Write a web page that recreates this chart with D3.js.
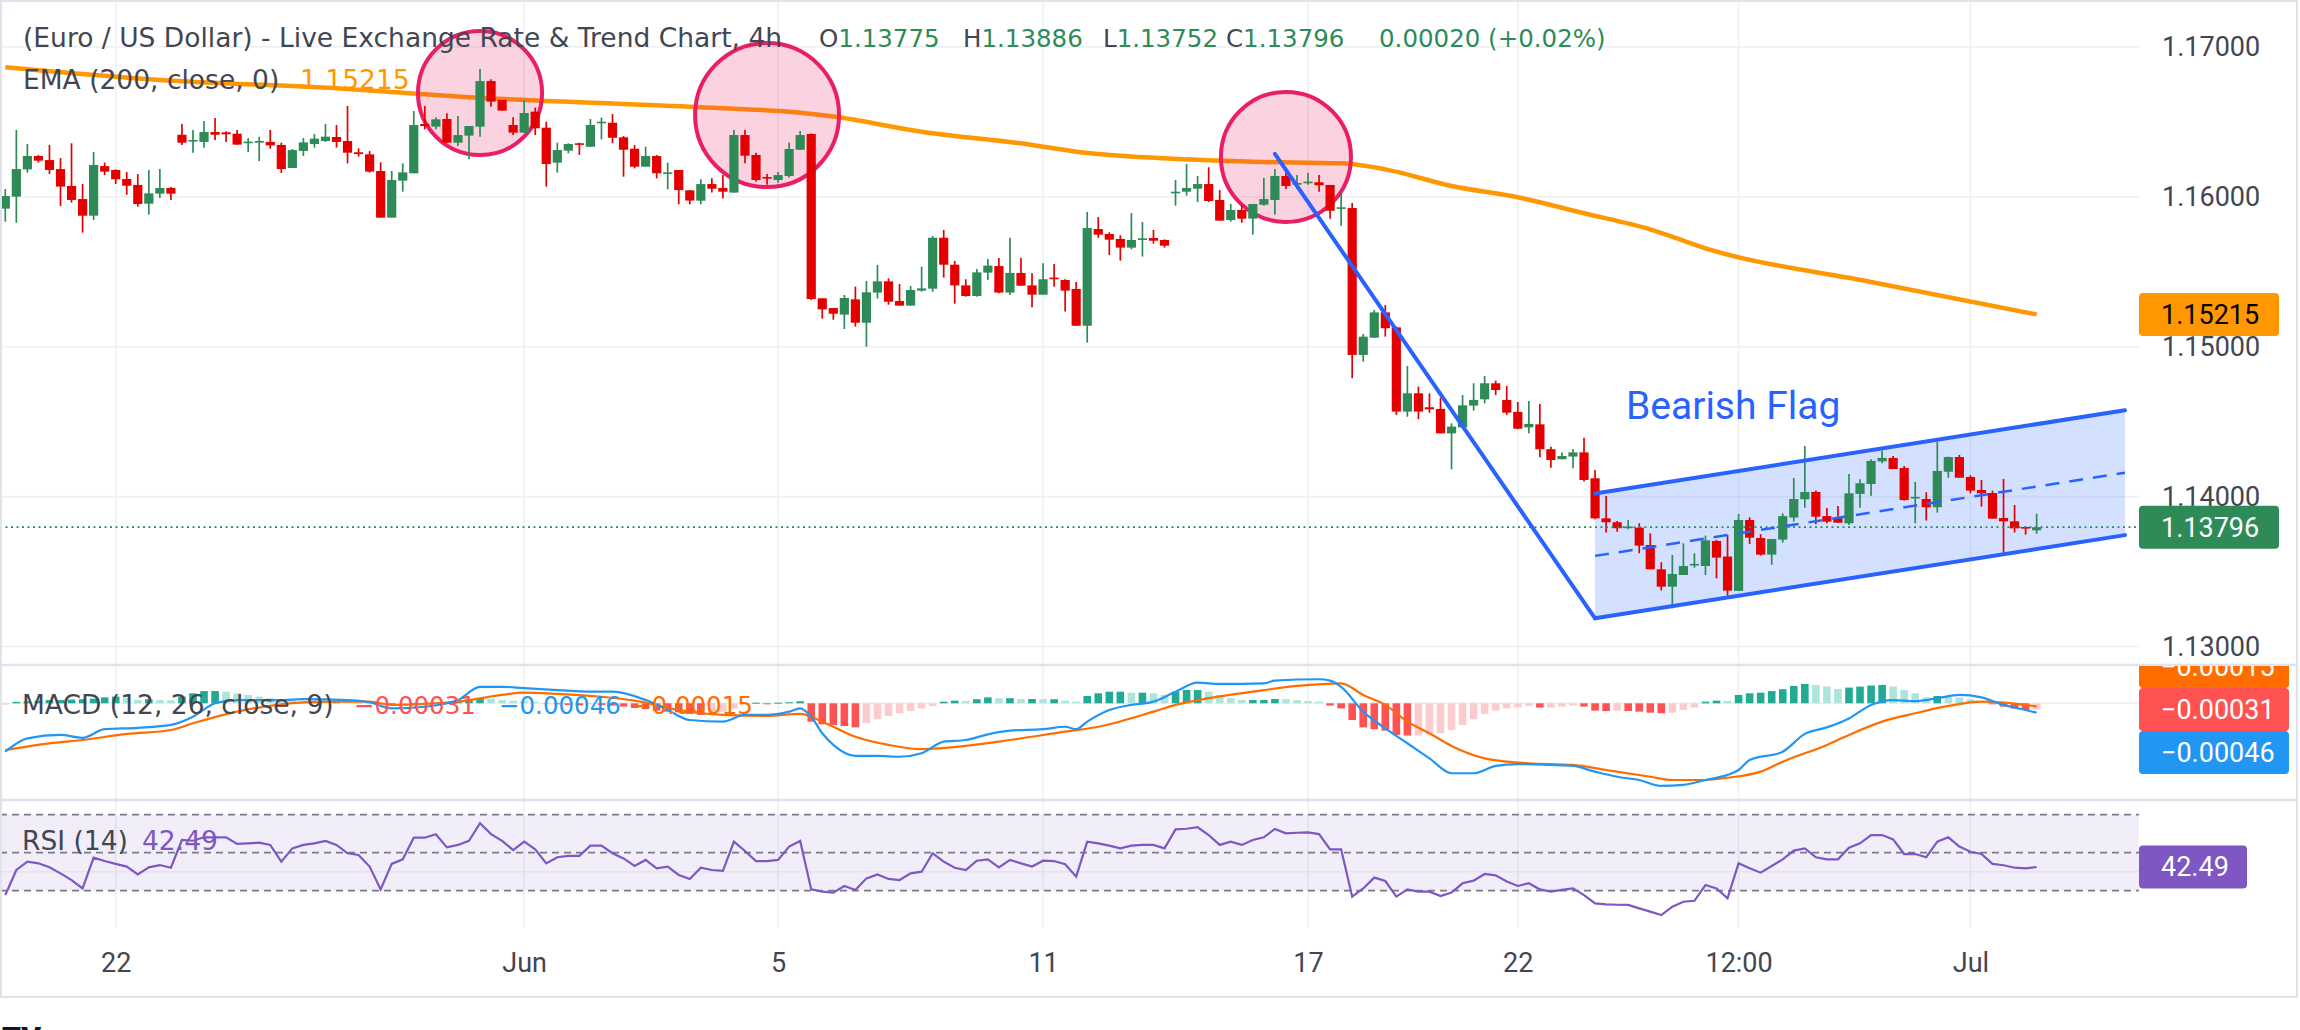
<!DOCTYPE html>
<html><head><meta charset="utf-8">
<script src="https://cdn.jsdelivr.net/npm/d3@7"></script>
<style>html,body{margin:0;padding:0;background:#fff;}svg{display:block;font-family:Roboto,"Noto Sans",sans-serif;}</style>
</head><body><div id="chart"></div>
<script>
// ---------------- DATA ----------------
const open = [1.15921,1.16001,1.16183,1.16272,1.16245,1.16185,1.16072,1.15985,1.15874,1.16205,
1.16179,1.16119,1.16079,1.15954,1.16021,1.16059,1.16414,1.16372,1.16366,1.16432,
1.1643,1.16421,1.16361,1.16363,1.16366,1.16346,1.16192,1.16306,1.16352,1.16372,
1.16399,1.16372,1.16297,1.16283,1.16172,1.15861,1.16108,1.16157,1.16486,1.16468,
1.16519,1.16361,1.16408,1.16468,1.16772,1.16646,1.16479,1.16428,1.16568,1.16461,
1.16228,1.16308,1.16357,1.16334,1.16494,1.16494,1.16397,1.16321,1.16201,1.16272,
1.16154,1.16179,1.16043,1.15974,1.16085,1.16059,1.16028,1.16412,1.16279,1.16132,
1.16112,1.16139,1.16314,1.16419,1.15323,1.15258,1.15214,1.15316,1.1516,1.15361,
1.15436,1.15305,1.15274,1.15374,1.15387,1.15727,1.15547,1.15409,1.15338,1.15494,
1.15538,1.15361,1.15492,1.15409,1.15347,1.15461,1.15445,1.15385,1.1514,1.15785,
1.15752,1.15719,1.15661,1.15712,1.15725,1.15712,1.16025,1.16034,1.16054,1.16085,
1.15979,1.15845,1.15912,1.15854,1.15947,1.15979,1.16139,1.16081,1.16097,1.16097,
1.16079,1.15921,1.15925,1.14945,1.1506,1.15229,1.15129,1.14567,1.14689,1.14596,
1.14585,1.14422,1.14462,1.14607,1.14649,1.14756,1.14645,1.14565,1.14462,1.14482,
1.14316,1.14249,1.14267,1.14295,1.14122,1.13855,1.13829,1.13793,1.13793,1.13677,
1.13515,1.13399,1.13477,1.13542,1.13537,1.13704,1.136,1.13371,1.13844,1.13724,
1.13613,1.13713,1.1386,1.13982,1.14031,1.1387,1.13857,1.13822,1.14018,1.14084,
1.14235,1.14258,1.14191,1.13991,1.13984,1.13929,1.14166,1.14264,1.14131,1.14044,
1.14024,1.13857,1.13835,1.13797,1.13775];
const high = [1.16052,1.16446,1.16352,1.16279,1.16346,1.16259,1.16357,1.16085,1.16299,1.16228,
1.16183,1.16165,1.16152,1.16179,1.16185,1.16065,1.16486,1.16446,1.16506,1.16526,
1.16437,1.16446,1.16392,1.16401,1.16446,1.16361,1.16319,1.16392,1.16419,1.16486,
1.16479,1.16606,1.16323,1.16305,1.1623,1.16172,1.16223,1.16572,1.16606,1.1653,
1.16557,1.16539,1.16472,1.16852,1.16784,1.16646,1.1653,1.16646,1.16595,1.16501,
1.16361,1.16357,1.16361,1.16519,1.16528,1.16552,1.16406,1.16346,1.16334,1.16279,
1.16228,1.16179,1.16045,1.16117,1.16123,1.16145,1.16446,1.16446,1.16294,1.16152,
1.16165,1.16363,1.16439,1.16423,1.15323,1.15258,1.15345,1.15401,1.15438,1.15545,
1.15456,1.15418,1.15405,1.15534,1.15739,1.15779,1.15572,1.1545,1.15518,1.15585,
1.15592,1.15727,1.15592,1.1549,1.15556,1.15552,1.1545,1.15432,1.15899,1.15865,
1.15763,1.15743,1.15892,1.15832,1.15779,1.15716,1.16112,1.16219,1.16139,1.16197,
1.16045,1.15952,1.15945,1.15952,1.16125,1.16185,1.16192,1.16145,1.16159,1.16145,
1.16079,1.16023,1.15959,1.15085,1.15245,1.15278,1.15134,1.14871,1.14734,1.14689,
1.1466,1.14489,1.14678,1.14756,1.14805,1.14774,1.14738,1.14631,1.14638,1.14618,
1.14333,1.14295,1.14318,1.14393,1.14178,1.14004,1.13837,1.13844,1.13822,1.13755,
1.13562,1.13611,1.13688,1.13622,1.1374,1.13711,1.13744,1.13884,1.13862,1.13749,
1.13717,1.13888,1.14124,1.14338,1.1404,1.13924,1.13937,1.14151,1.14115,1.14249,
1.14307,1.14271,1.14204,1.14098,1.14029,1.14367,1.14267,1.14278,1.14142,1.14111,
1.1404,1.14118,1.13944,1.138,1.13886];
const low = [1.15834,1.15827,1.16161,1.16228,1.16152,1.15939,1.15961,1.15761,1.15845,1.16145,
1.16085,1.16014,1.15934,1.15881,1.15992,1.15979,1.16346,1.16294,1.16328,1.16379,
1.16366,1.16348,1.16299,1.16239,1.16321,1.16159,1.16192,1.16272,1.16328,1.16366,
1.16328,1.16223,1.16268,1.16161,1.15861,1.15861,1.16034,1.16157,1.1645,1.1645,
1.16361,1.16339,1.1625,1.16401,1.16601,1.16575,1.16412,1.16428,1.16412,1.16068,
1.16161,1.1629,1.16279,1.16334,1.16383,1.16357,1.16134,1.1619,1.16201,1.16123,
1.1605,1.1595,1.1595,1.1595,1.16028,1.15988,1.16028,1.16223,1.16101,1.16081,
1.16094,1.16128,1.16314,1.15312,1.15187,1.1518,1.15118,1.15134,1.15,1.15321,
1.1528,1.15274,1.15274,1.15367,1.15367,1.15461,1.15287,1.15334,1.15334,1.15445,
1.15356,1.15345,1.15407,1.15263,1.15347,1.154,1.15234,1.1514,1.15027,1.15727,
1.15612,1.15574,1.1565,1.15601,1.15687,1.15661,1.15941,1.16008,1.15965,1.15965,
1.15841,1.15834,1.15827,1.15747,1.15941,1.15881,1.16052,1.16056,1.16081,1.16034,
1.15854,1.15807,1.1479,1.149,1.1506,1.15067,1.14545,1.14533,1.14516,1.1456,
1.14422,1.14182,1.14462,1.14573,1.14622,1.14678,1.14545,1.14449,1.14422,1.14262,
1.14193,1.14249,1.14189,1.141,1.13849,1.1376,1.13766,1.13782,1.13622,1.13515,
1.13373,1.13255,1.13477,1.13526,1.13477,1.13455,1.13339,1.13371,1.13684,1.13606,
1.13546,1.13693,1.13833,1.13926,1.13815,1.13822,1.13826,1.13811,1.13926,1.14006,
1.14222,1.14184,1.13973,1.13822,1.1384,1.13893,1.14126,1.14126,1.14022,1.13933,
1.13853,1.13622,1.1376,1.13746,1.13752];
const close = [1.16005,1.16185,1.16272,1.16241,1.16179,1.16068,1.15979,1.15874,1.16212,1.16168,
1.16117,1.16074,1.15952,1.16023,1.16059,1.16021,1.16361,1.16379,1.16432,1.16414,
1.16417,1.16348,1.16368,1.16372,1.16343,1.16185,1.16312,1.16363,1.16388,1.16401,
1.16366,1.16294,1.16285,1.16168,1.15861,1.16112,1.16163,1.16479,1.16472,1.16517,
1.16361,1.16412,1.16472,1.16772,1.16635,1.16575,1.16428,1.16559,1.16457,1.16219,
1.16312,1.16352,1.16348,1.16479,1.16501,1.16394,1.16314,1.16201,1.16272,1.16157,
1.16163,1.16045,1.15975,1.16085,1.16054,1.16034,1.16412,1.16274,1.16112,1.16121,
1.16145,1.16319,1.16412,1.15318,1.15249,1.1522,1.15325,1.1516,1.15363,1.15436,
1.153,1.15274,1.15378,1.15389,1.15727,1.15547,1.15409,1.15338,1.15496,1.15541,
1.15361,1.15492,1.15407,1.15347,1.1545,1.1545,1.15374,1.1514,1.15792,1.15747,
1.15714,1.15661,1.15712,1.15723,1.15707,1.15674,1.16034,1.16059,1.16085,1.15972,
1.15841,1.15912,1.15854,1.15952,1.15985,1.16139,1.16072,1.16092,1.16101,1.16077,
1.15907,1.1593,1.14945,1.15067,1.15229,1.15123,1.14567,1.14689,1.14567,1.14582,
1.14422,1.14467,1.14609,1.14645,1.14756,1.14711,1.1456,1.14453,1.14485,1.14316,
1.14244,1.14271,1.14295,1.14111,1.13855,1.13829,1.13789,1.138,1.13673,1.13515,
1.13399,1.13484,1.13537,1.13551,1.13708,1.13593,1.13373,1.13844,1.13726,1.13613,
1.13717,1.1387,1.13984,1.14031,1.13866,1.13833,1.13826,1.14022,1.14089,1.14238,
1.14258,1.14184,1.13977,1.13998,1.13929,1.14171,1.14264,1.14126,1.1404,1.14022,
1.13853,1.13835,1.13788,1.13791,1.13796];

// EMA(200) read at candle indices
const emaLine = [[0,1.16864],[14,1.16779],[30,1.16724],[42,1.16664],[62,1.16601],[72,1.16561],[75,1.16535],[83,1.16434],[93,1.16346],[97,1.16301],[105,1.16257],[113,1.16234],[121,1.16223],[125,1.16183],[131,1.16072],[137,1.15997],[143,1.1589],[149,1.15783],[154,1.15656],[169,1.15432],[184,1.15215]];

// MACD line / signal line read at candle indices
const macdLine = [[0,-0.00237],[2,-0.00172],[5,-0.00155],[7,-0.00169],[9,-0.00127],[12,-0.0012],[15,-0.00106],[17,-0.00066],[19,0],[21,0.00016],[25,0.00016],[27,0.0002],[31,0.00016],[33,0.00005],[35,-0.00025],[38,-0.00017],[41,0.00016],[43,0.00081],[45,0.00081],[47,0.00074],[50,0.00065],[53,0.00057],[55,0.00057],[58,0.00016],[60,-0.00033],[62,-0.00082],[65,-0.0009],[67,-0.00057],[69,-0.00057],[71,-0.00041],[72,-0.00025],[73,-0.00066],[74,-0.00147],[75,-0.00204],[77,-0.00258],[79,-0.00258],[81,-0.00262],[83,-0.00245],[85,-0.00188],[87,-0.0018],[89,-0.00152],[91,-0.00134],[94,-0.00127],[96,-0.00115],[97,-0.00127],[98,-0.0009],[100,-0.00033],[102,-0.00008],[104,0.00008],[106,0.00057],[108,0.00101],[110,0.00095],[114,0.00098],[115,0.00111],[119,0.00118],[120,0.00111],[121,0.00081],[123,-0.00041],[125,-0.00123],[127,-0.00196],[129,-0.0027],[131,-0.00343],[133,-0.00343],[135,-0.00307],[137,-0.00298],[140,-0.00302],[142,-0.00307],[144,-0.00335],[146,-0.0036],[148,-0.00376],[150,-0.00405],[152,-0.004],[154,-0.00376],[156,-0.00351],[157,-0.00327],[158,-0.00278],[161,-0.00237],[163,-0.0015],[165,-0.00118],[167,-0.00074],[169,-0.00008],[171,0.00016],[173,0.00011],[175,0.00025],[177,0.00041],[179,0.00029],[181,-0.00008],[183,-0.00033],[184,-0.00046]];
const signalLine = [[0,-0.00229],[4,-0.00196],[7,-0.0018],[11,-0.0015],[15,-0.00131],[17,-0.00098],[21,-0.00041],[25,-0.00005],[29,0.00008],[33,0.00008],[35,-0.00008],[38,-0.00003],[41,0.00008],[45,0.00041],[47,0.00052],[50,0.00046],[54,0.00032],[57,0.00013],[61,-0.00033],[65,-0.00057],[69,-0.00062],[72,-0.00052],[74,-0.0009],[77,-0.00164],[80,-0.00204],[83,-0.00225],[87,-0.00209],[91,-0.0018],[96,-0.00139],[99,-0.00115],[104,-0.00041],[106,-0.00008],[109,0.00025],[113,0.00057],[117,0.00085],[121,0.00098],[123,0.00041],[125,-0.00008],[127,-0.0009],[129,-0.00147],[131,-0.00209],[134,-0.0027],[136,-0.00286],[138,-0.00294],[142,-0.00302],[145,-0.00327],[149,-0.0036],[151,-0.00376],[154,-0.00376],[156,-0.00365],[159,-0.00335],[161,-0.00286],[165,-0.00204],[167,-0.00155],[170,-0.0009],[173,-0.00049],[176,-0.00013],[179,0.00008],[183,-0.00008],[184,-0.00015]];

const hist = [-0.00007,0.00007,0.0001,0.00013,0.00016,0.00016,0.00018,0.0002,0.00023,0.00029,
0.00033,0.00025,0.00016,0.0002,0.00016,0.00015,0.00033,0.00049,0.0006,0.0006,
0.00057,0.00049,0.00041,0.00033,0.00025,0.00016,0.00015,0.0001,0.0001,0.00008,
0.00008,0.00007,0.00003,0,-0.00003,-0.00007,-0.00005,0,-0.00002,0.00002,
0.00005,0.0001,0.0002,0.00025,0.00023,0.00016,0.00013,0.0001,0.00007,0,
-0.00005,-0.00008,-0.0001,-0.00005,-0.00008,-0.00011,-0.00016,-0.00023,-0.00028,-0.00036,
-0.00041,-0.00044,-0.00052,-0.00057,-0.00052,-0.00041,-0.00025,-0.00003,0.00003,-0.00003,
0.00003,0.00005,0.0001,-0.0009,-0.00103,-0.00106,-0.00111,-0.00118,-0.00098,-0.00078,
-0.00062,-0.00049,-0.00038,-0.00025,-0.00013,0.00008,0.00013,0.00011,0.0002,0.00029,
0.00025,0.00025,0.00021,0.00021,0.0002,0.0002,0.00013,0.00008,0.00036,0.00049,
0.00057,0.00057,0.00052,0.00052,0.00049,0.00041,0.00057,0.00065,0.00065,0.00057,
0.00041,0.00025,0.00016,0.00016,0.00016,0.00021,0.0002,0.00016,0.00011,0.00008,
-0.00011,-0.00025,-0.00082,-0.00118,-0.00127,-0.00134,-0.00155,-0.00158,-0.00158,-0.00152,
-0.00147,-0.00131,-0.00106,-0.00078,-0.00052,-0.00036,-0.00025,-0.0002,-0.00013,-0.00021,
-0.00021,-0.00016,-0.00011,-0.00016,-0.00036,-0.00038,-0.00036,-0.00038,-0.00041,-0.00046,
-0.00049,-0.00046,-0.00033,-0.00021,0.00008,0.00013,0.00011,0.00041,0.00049,0.00052,
0.0006,0.00069,0.00085,0.00095,0.0009,0.00082,0.0007,0.00077,0.00082,0.00087,
0.0009,0.00082,0.00065,0.00049,0.00029,0.00036,0.00033,0.00029,0.0002,0.00008,
-0.00005,-0.00016,-0.00025,-0.00033,-0.00031];

const rsi = [27.7,40.9,45.3,44.4,42.3,39.1,35.6,31.2,47.4,45.6,
44.1,42.7,38.6,42.3,43.5,42.1,56.7,56.3,58.1,58.1,
58.1,54.6,54.9,55.3,54.1,45.3,52.3,54.1,54.9,56.2,
54.1,49.7,48.8,42.7,30.7,44.1,46.5,57.9,57.9,59.7,
52.8,54.1,56.3,65.5,59.8,56.2,51.4,55.8,51.8,44.4,
47.6,48.3,48.3,53.7,53.7,49.7,47.0,43.0,46.2,41.8,
42.7,38.3,36.2,42.1,40.9,40.4,55.8,50.9,45.6,45.6,
46.2,53.2,56.2,30.7,29.5,29.0,32.5,30.4,36.5,38.6,
36.2,35.6,39.1,40.0,49.7,45.3,42.1,40.9,45.8,46.5,
42.3,46.2,44.4,42.7,45.8,45.6,43.9,37.4,55.8,54.9,
53.7,52.3,53.7,54.1,54.1,52.3,62.3,62.6,63.4,59.3,
54.1,55.8,54.1,56.7,58.1,62.5,60.2,60.5,60.7,59.8,
51.8,51.8,26.9,31.2,36.9,35.1,26.9,30.7,29.5,29.5,
27.2,29.0,33.9,35.3,38.8,38.1,34.8,32.5,33.9,30.7,
29.5,30.4,31.2,27.7,23.3,22.8,22.6,22.5,20.7,19.0,
17.2,21.6,24.2,24.7,33.0,31.2,26.0,44.4,41.8,39.5,
43.0,46.5,51.1,52.3,47.6,46.5,46.5,52.6,54.9,59.3,
59.3,57.0,49.3,49.3,47.6,55.8,58.1,53.2,50.5,49.3,
44.1,43.4,42.1,41.8,42.49];

const priceTicks = [1.13,1.14,1.15,1.16,1.17];
const xTickIdx = [10,47,70,94,118,137,157,178];
const xTickLabels = ["22","Jun","5","11","17","22","12:00","Jul"];
const rsiLevels = [70,50,30];

// drawings: circles (candle index, price, radius in bars), bearish flag points
const circles = [[43,1.16692,5.62],[69,1.16545,6.52],[116,1.16266,5.89]];
const flagpole = [[115,1.16286],[144,1.13188]];
const flagUpper = [[144,1.14021],[192,1.14576]];
const flagLower = [[144,1.13188],[192,1.13743]];
const flagLabel = [146.8,1.14516,"Bearish Flag"];

const titleText = "(Euro / US Dollar) - Live Exchange Rate & Trend Chart, 4h";
const ohlcLegend = [["O","1.13775"],["H","1.13886"],["L","1.13752"],["C","1.13796"],["","0.00020 (+0.02%)"]];

// ---------------- DRAW ----------------
const W=2300,H=1030,PR=2139;
const GREEN="#2E8B57",RED="#E50000",TXT="#434651",GRID="#eef0f3";
const LF="'DejaVu Sans',Verdana,sans-serif";
const svg=d3.select("#chart").append("svg").attr("width",W).attr("height",H);
svg.append("rect").attr("width",W).attr("height",H).attr("fill","#fff");

const x=d3.scaleLinear().domain([0,184]).range([5.3,2036.66]);
const y=d3.scaleLinear().domain([1.17,1.13]).range([46.9,646.5]);
const yM=d3.scaleLinear().domain([0,-0.004]).range([703.3,784.9]);
const yR=d3.scaleLinear().domain([70,30]).range([814.7,890.7]);
const bar=x(1)-x(0);

const defs=svg.append("defs");
[["cMain",0,0,PR,664],["cMacd",0,666,PR,133],["cRsi",0,801,PR,127],["cMacdAx",PR,666,200,133]].forEach(c=>{
  defs.append("clipPath").attr("id",c[0]).append("rect").attr("x",c[1]).attr("y",c[2]).attr("width",c[3]).attr("height",c[4]);
});

// gridlines
const grid=svg.append("g");
priceTicks.forEach(t=>grid.append("line").attr("x1",0).attr("x2",PR).attr("y1",y(t)).attr("y2",y(t)).attr("stroke",GRID).attr("stroke-width",1.6));
xTickIdx.forEach(i=>grid.append("line").attr("x1",x(i)).attr("x2",x(i)).attr("y1",0).attr("y2",928).attr("stroke",GRID).attr("stroke-width",1.6));
grid.append("line").attr("x1",0).attr("x2",PR).attr("y1",yM(0)).attr("y2",yM(0)).attr("stroke",GRID).attr("stroke-width",1.6);

// ----- main pane -----
const main=svg.append("g").attr("clip-path","url(#cMain)");
const lineP=d3.line().x(d=>x(d[0])).y(d=>y(d[1]));
main.append("path").attr("d",lineP([flagUpper[0],flagUpper[1],flagLower[1],flagLower[0]])+"Z").attr("fill","rgba(41,98,255,0.2)");
main.append("path").attr("d",d3.line().x(d=>x(d[0])).y(d=>y(d[1])).curve(d3.curveMonotoneX)(emaLine)).attr("fill","none").attr("stroke","#FF9800").attr("stroke-width",4.5);
circles.forEach(c=>main.append("circle").attr("cx",x(c[0])).attr("cy",y(c[1])).attr("r",c[2]*bar).attr("fill","rgba(233,30,99,0.2)").attr("stroke","#E91E63").attr("stroke-width",4));
const gC=main.append("g");
close.forEach((c,i)=>{
  const col=c>=open[i]?GREEN:RED;
  gC.append("line").attr("x1",x(i)).attr("x2",x(i)).attr("y1",y(high[i])).attr("y2",y(low[i])).attr("stroke",col).attr("stroke-width",1.7);
  const yt=y(Math.max(open[i],c)),yb=y(Math.min(open[i],c));
  gC.append("rect").attr("x",x(i)-4.6).attr("width",9.2).attr("y",yt).attr("height",Math.max(1.6,yb-yt)).attr("fill",col);
});
const last=close[close.length-1];
main.append("line").attr("x1",0).attr("x2",PR).attr("y1",y(last)).attr("y2",y(last)).attr("stroke",GREEN).attr("stroke-width",1.8).attr("stroke-dasharray","2,3.5");
[flagpole,flagUpper,flagLower].forEach(l=>main.append("path").attr("d",lineP(l)).attr("fill","none").attr("stroke","#2962FF").attr("stroke-width",4).attr("stroke-linecap","round"));
const mid=[[flagUpper[0][0],(flagUpper[0][1]+flagLower[0][1])/2],[flagUpper[1][0],(flagUpper[1][1]+flagLower[1][1])/2]];
main.append("path").attr("d",lineP(mid)).attr("fill","none").attr("stroke","#2962FF").attr("stroke-width",2.5).attr("stroke-dasharray","14,10");
main.append("text").attr("x",x(flagLabel[0])).attr("y",y(flagLabel[1])).attr("font-size",39).attr("fill","#2962FF").text(flagLabel[2]);

// ----- MACD pane -----
const mg=svg.append("g").attr("clip-path","url(#cMacd)");
hist.forEach((v,i)=>{
  const prev=i>0?hist[i-1]:v;
  const col=v>=0?(v>=prev?"#22AB94":"#ACE5DC"):(v<prev?"#FF5252":"#FCCBCD");
  const y0=yM(0),y1=yM(v);
  mg.append("rect").attr("x",x(i)-3.8).attr("width",7.6).attr("y",Math.min(y0,y1)).attr("height",Math.max(1,Math.abs(y1-y0))).attr("fill",col);
});
const lineM=d3.line().x(d=>x(d[0])).y(d=>yM(d[1])).curve(d3.curveMonotoneX);
mg.append("path").attr("d",lineM(signalLine)).attr("fill","none").attr("stroke","#FF6D00").attr("stroke-width",2.2);
mg.append("path").attr("d",lineM(macdLine)).attr("fill","none").attr("stroke","#2196F3").attr("stroke-width",2.2);

// ----- RSI pane -----
const rg=svg.append("g").attr("clip-path","url(#cRsi)");
rg.append("rect").attr("x",0).attr("width",PR).attr("y",yR(70)).attr("height",yR(30)-yR(70)).attr("fill","rgba(126,87,194,0.1)");
rg.append("line").attr("x1",0).attr("x2",PR).attr("y1",yR(40)).attr("y2",yR(40)).attr("stroke","#e4e2ee").attr("stroke-width",1.5);
rsiLevels.forEach(l=>rg.append("line").attr("x1",0).attr("x2",PR).attr("y1",yR(l)).attr("y2",yR(l)).attr("stroke","#787B86").attr("stroke-width",1.7).attr("stroke-dasharray","7,5"));
rg.append("path").attr("d",d3.line().x((d,i)=>x(i)).y(d=>yR(d))(rsi)).attr("fill","none").attr("stroke","#7E57C2").attr("stroke-width",2.2);

// ----- frame / separators -----
svg.append("rect").attr("x",1).attr("y",1).attr("width",2296).attr("height",996).attr("fill","none").attr("stroke","#e0e3eb").attr("stroke-width",2);
[665,800].forEach(v=>svg.append("line").attr("x1",0).attr("x2",2297).attr("y1",v).attr("y2",v).attr("stroke","#e0e3eb").attr("stroke-width",2.5));

// ----- axes -----
const ax=svg.append("g").attr("transform","translate(2162,0)").call(d3.axisRight(y).tickValues(priceTicks).tickFormat(d3.format(".5f")).tickSize(0).tickPadding(0));
ax.select(".domain").remove();
ax.selectAll("text").attr("font-size",27).attr("fill",TXT).attr("font-family","Roboto");
const bx=svg.append("g").attr("transform","translate(0,953)").call(d3.axisBottom(x).tickValues(xTickIdx).tickFormat((d,i)=>xTickLabels[i]).tickSize(0).tickPadding(0));
bx.select(".domain").remove();
bx.selectAll("text").attr("font-size",27).attr("fill",TXT).attr("font-family","Roboto");

// ----- price label boxes -----
function box(g,yc,w,fill,txt,tcol){
  g.append("rect").attr("x",PR).attr("y",yc-21.5).attr("width",w).attr("height",43).attr("rx",4).attr("fill",fill);
  g.append("text").attr("x",2161).attr("y",yc).attr("dy","0.35em").attr("font-size",27).attr("fill",tcol).text(txt);
}
const lastEma=emaLine[emaLine.length-1][1];
box(svg,y(lastEma),140,"#FF9800",d3.format(".5f")(lastEma),"#000");
box(svg,y(last),140,GREEN,d3.format(".5f")(last),"#fff");
const mA=svg.append("g").attr("clip-path","url(#cMacdAx)");
const hLast=hist[hist.length-1],mLast=macdLine[macdLine.length-1][1],sLast=signalLine[signalLine.length-1][1];
box(mA,yM(hLast)-43,150,"#FF6D00",d3.format(".5f")(sLast),"#fff");
box(mA,yM(hLast),150,"#FF5252",d3.format(".5f")(hLast),"#fff");
box(mA,yM(hLast)+43,150,"#2196F3",d3.format(".5f")(mLast),"#fff");
box(svg,yR(rsi[rsi.length-1]),108,"#7E57C2",d3.format(".2f")(rsi[rsi.length-1]),"#fff");

// ----- legends -----
const fs=26.5;
const leg=svg.append("g").attr("font-family",LF).attr("font-size",fs);
leg.append("text").attr("x",23).attr("y",47).attr("fill",TXT).text(titleText);
const ohlcX=[819,963,1103,1226,1379];
ohlcLegend.forEach((o,k)=>{
  const t=leg.append("text").attr("x",ohlcX[k]).attr("y",47).attr("font-size",24.5);
  t.append("tspan").attr("fill",TXT).text(o[0]);
  t.append("tspan").attr("fill",GREEN).text(o[1]);
});
leg.append("text").attr("x",23).attr("y",89).attr("fill",TXT).text("EMA (200, close, 0)");
leg.append("text").attr("x",300).attr("y",89).attr("fill","#FF9800").text(d3.format(".5f")(lastEma));
leg.append("text").attr("x",22).attr("y",714).attr("fill",TXT).text("MACD (12, 26, close, 9)");
[[354,"#FF5252",hLast],[499,"#2196F3",mLast],[631,"#FF6D00",sLast]].forEach(m=>leg.append("text").attr("x",m[0]).attr("y",714).attr("font-size",24.5).attr("fill",m[1]).text(d3.format(".5f")(m[2])));
leg.append("text").attr("x",22).attr("y",850).attr("fill",TXT).text("RSI (14)");
leg.append("text").attr("x",142).attr("y",850).attr("fill","#7E57C2").text(d3.format(".2f")(rsi[rsi.length-1]));
svg.append("text").attr("x",2).attr("y",1048).attr("font-size",30).attr("font-weight",900).attr("fill","#131722").text("TV");
</script></body></html>
